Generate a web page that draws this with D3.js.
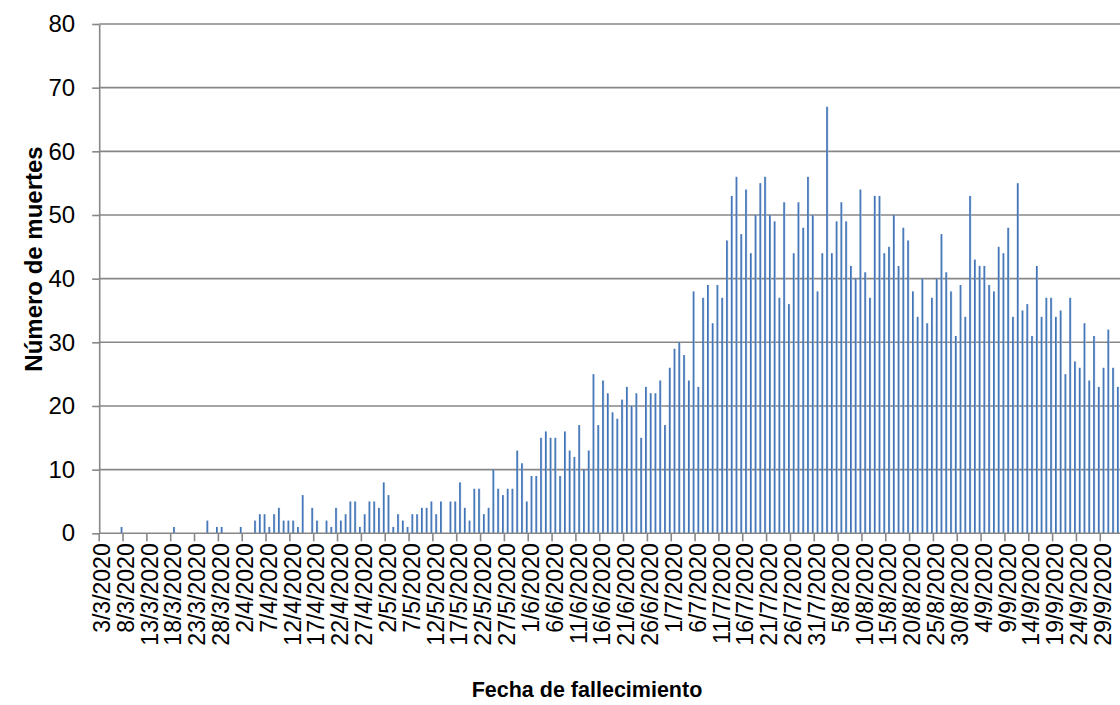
<!DOCTYPE html>
<html>
<head>
<meta charset="utf-8">
<script src="https://cdn.jsdelivr.net/npm/d3@7"></script>
<style>
  body { margin: 0; background: #fff; }
  svg { display: block; font-family: Arial, "Liberation Sans", sans-serif; }
</style>
</head>
<body>
<div id="grafico"></div>
<script>
// datos: muertes diarias desde el 3/3/2020
const fechaInicio = "3/3/2020";
const muertes = [
  0, 0, 0, 0, 1, 0, 0, 0, 0, 0, 0, 0, 0, 0, 0, 1, 0, 0, 0, 0,
  0, 0, 2, 0, 1, 1, 0, 0, 0, 1, 0, 0, 2, 3, 3, 1, 3, 4, 2, 2,
  2, 1, 6, 0, 4, 2, 0, 2, 1, 4, 2, 3, 5, 5, 1, 3, 5, 5, 4, 8,
  6, 1, 3, 2, 1, 3, 3, 4, 4, 5, 3, 5, 0, 5, 5, 8, 4, 2, 7, 7,
  3, 4, 10, 7, 6, 7, 7, 13, 11, 5, 9, 9, 15, 16, 15, 15, 9, 16, 13, 12,
  17, 10, 13, 25, 17, 24, 22, 19, 18, 21, 23, 20, 22, 15, 23, 22, 22, 24, 17, 26,
  29, 30, 28, 24, 38, 23, 37, 39, 33, 39, 37, 46, 53, 56, 47, 54, 44, 50, 55, 56,
  50, 49, 37, 52, 36, 44, 52, 48, 56, 50, 38, 44, 67, 44, 49, 52, 49, 42, 40, 54,
  41, 37, 53, 53, 44, 45, 50, 42, 48, 46, 38, 34, 40, 33, 37, 40, 47, 41, 38, 31,
  39, 34, 53, 43, 42, 42, 39, 38, 45, 44, 48, 34, 55, 35, 36, 31, 42, 34, 37, 37,
  34, 35, 25, 37, 27, 26, 33, 24, 31, 23, 26, 32, 26, 23
];
const yTicks = [0, 10, 20, 30, 40, 50, 60, 70, 80];
const pasoEtiquetas = 5;
const tituloX = "Fecha de fallecimiento";
const tituloY = "Número de muertes";

const width = 1120, height = 705;
const x0 = 99.2, paso = 4.767, yBase = 533.3, yTop = 24;
const gris = "#878787";

const parse = d3.timeParse("%d/%m/%Y");
const fmt = d3.timeFormat("%-d/%-m/%Y");
const inicio = parse(fechaInicio);
const fechas = muertes.map((d, i) => fmt(d3.timeDay.offset(inicio, i)));
const datos = fechas.map((f, i) => ({fecha: f, valor: muertes[i]}));

const x = d3.scaleBand()
  .domain(fechas)
  .range([x0, x0 + paso * fechas.length])
  .paddingInner(0).paddingOuter(0);

const y = d3.scaleLinear().domain([0, 80]).range([yBase, yTop]);

const svg = d3.select("#grafico").append("svg")
  .attr("width", width)
  .attr("height", height)
  .style("background", "#fff");

const defs = svg.append("defs");
const grad = defs.append("linearGradient")
  .attr("id", "gradBarra")
  .attr("x1", "0%").attr("x2", "100%").attr("y1", "0%").attr("y2", "0%");
grad.append("stop").attr("offset", "0%").attr("stop-color", "#3a6cb0");
grad.append("stop").attr("offset", "55%").attr("stop-color", "#4a7dbb");
grad.append("stop").attr("offset", "100%").attr("stop-color", "#a8c0e3");

// lineas de la cuadricula
svg.append("g")
  .selectAll("line")
  .data(yTicks.filter(t => t > 0))
  .join("line")
    .attr("x1", x0)
    .attr("x2", width)
    .attr("y1", d => y(d))
    .attr("y2", d => y(d))
    .attr("stroke", gris)
    .attr("stroke-width", 1.6);

// barras
svg.append("g")
  .selectAll("rect")
  .data(datos.filter(d => d.valor > 0))
  .join("rect")
    .attr("x", d => x(d.fecha) + x.bandwidth() / 2)
    .attr("y", d => y(d.valor))
    .attr("width", 2.1)
    .attr("height", d => y(0) - y(d.valor))
    .attr("fill", "url(#gradBarra)");

// eje Y
const ejeY = svg.append("g")
  .attr("transform", `translate(${x0},0)`)
  .call(d3.axisLeft(y).tickValues(yTicks).tickSize(7).tickPadding(17).tickSizeOuter(0));
ejeY.select(".domain").attr("stroke", gris).attr("stroke-width", 1.6);
ejeY.selectAll(".tick line").attr("stroke", gris).attr("stroke-width", 1.6);
ejeY.selectAll(".tick text")
  .attr("font-size", 24)
  .attr("fill", "#000")
  .attr("font-family", "Arial, 'Liberation Sans', sans-serif");

// eje X: marcas en el borde de cada dia
const marcas = fechas.filter((f, i) => i % pasoEtiquetas === 0);
const ejeX = svg.append("g")
  .attr("transform", `translate(${-x.bandwidth() / 2},${yBase})`)
  .call(d3.axisBottom(x).tickValues(marcas).tickSize(8).tickFormat("").tickSizeOuter(0));
ejeX.select(".domain").remove();
ejeX.selectAll(".tick line").attr("stroke", gris).attr("stroke-width", 1.6);

svg.append("line")
  .attr("x1", x0).attr("x2", width)
  .attr("y1", yBase).attr("y2", yBase)
  .attr("stroke", gris).attr("stroke-width", 1.6);

// etiquetas de fechas
const etiquetas = svg.append("g")
  .attr("transform", `translate(0,${yBase})`)
  .call(d3.axisBottom(x).tickValues(marcas).tickSize(0).tickSizeOuter(0));
etiquetas.select(".domain").remove();
etiquetas.selectAll(".tick text")
  .attr("font-size", 23)
  .attr("fill", "#000")
  .attr("font-family", "Arial, 'Liberation Sans', sans-serif")
  .attr("text-anchor", "end")
  .attr("transform", "rotate(-90)")
  .attr("x", -10)
  .attr("y", 0)
  .attr("dy", "0.36em");

// titulos
svg.append("text")
  .attr("x", 587)
  .attr("y", 697)
  .attr("text-anchor", "middle")
  .attr("font-size", 21.5)
  .attr("font-weight", "bold")
  .text(tituloX);

svg.append("text")
  .attr("transform", "translate(42,259) rotate(-90)")
  .attr("text-anchor", "middle")
  .attr("font-size", 24)
  .attr("font-weight", "bold")
  .text(tituloY);
</script>
</body>
</html>
